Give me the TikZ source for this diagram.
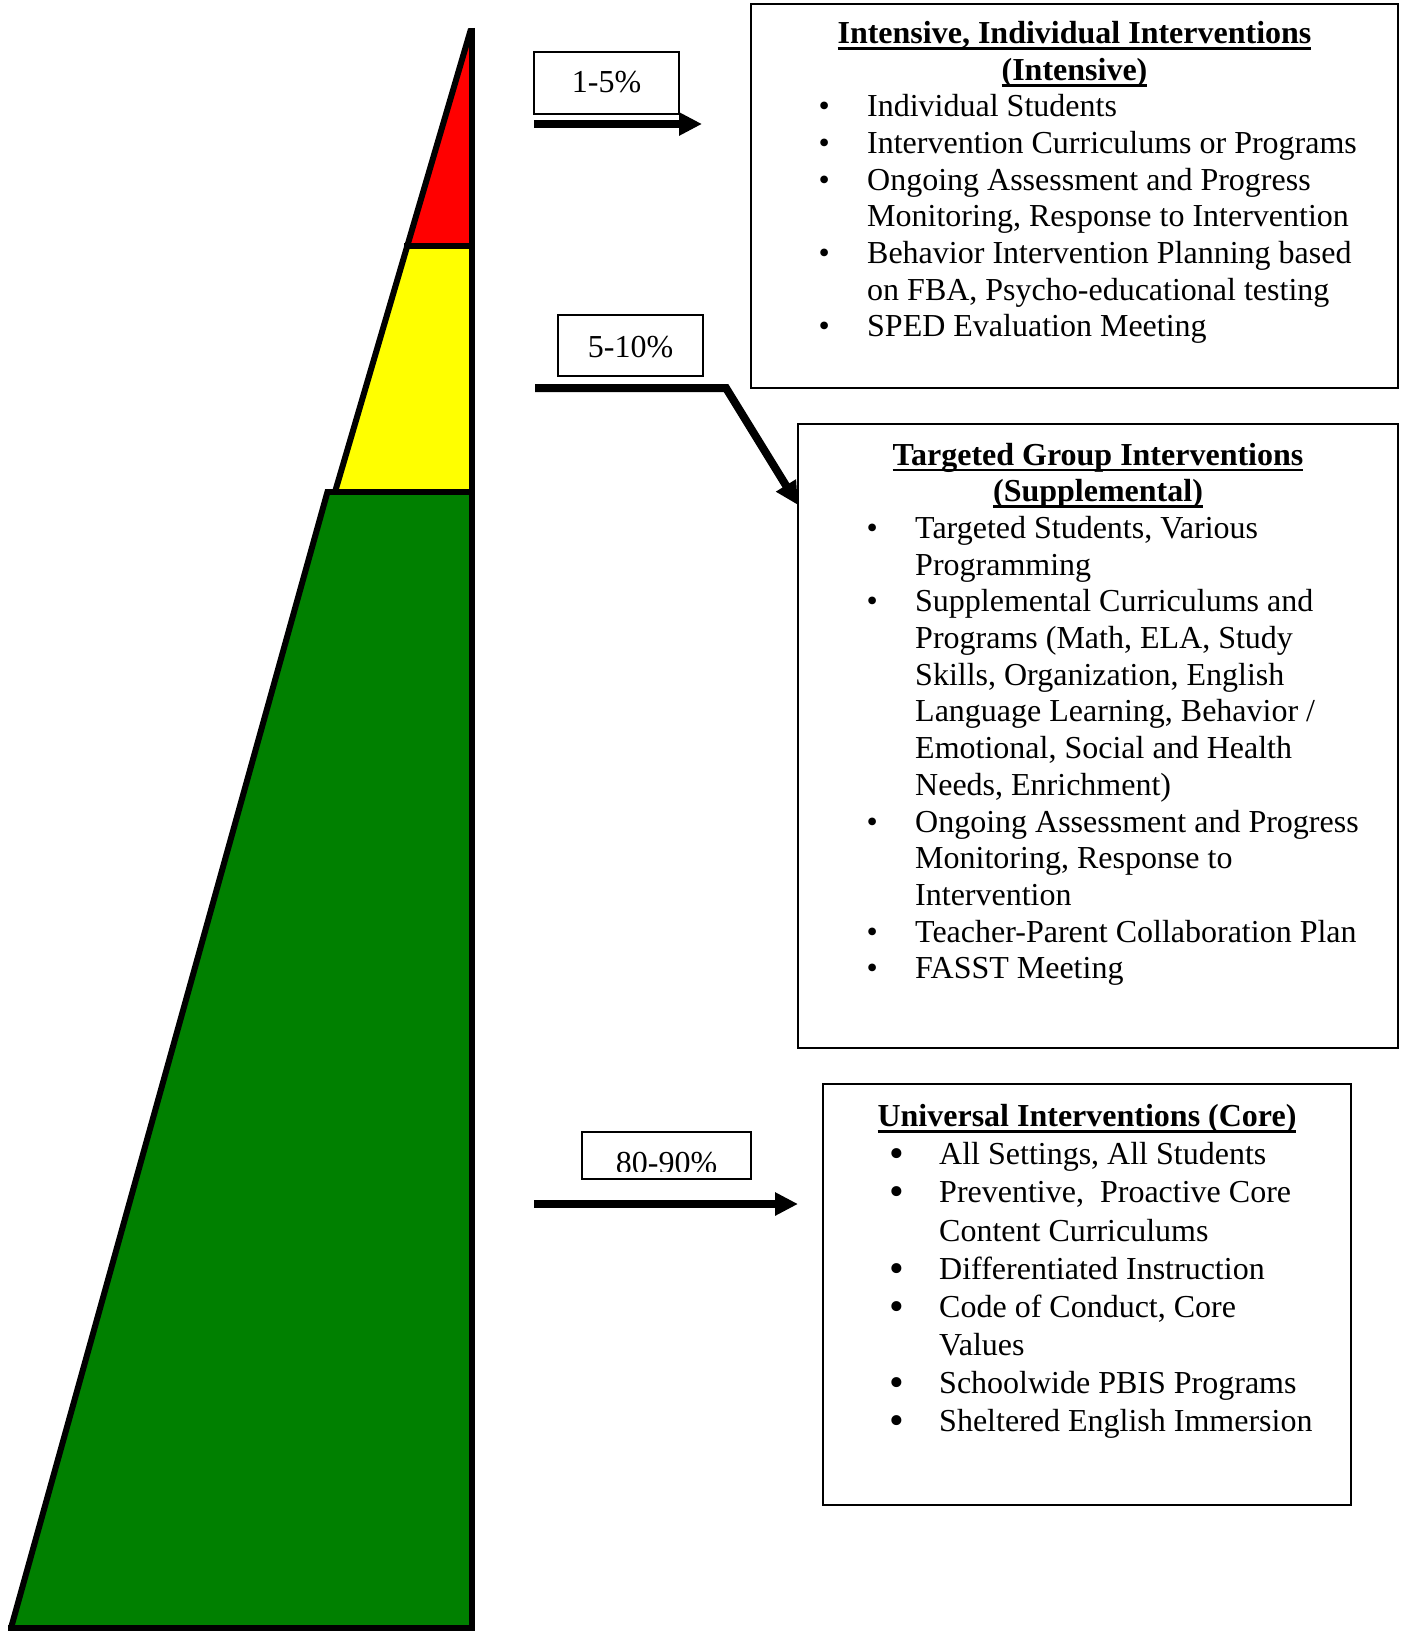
\documentclass[tikz,border=0pt]{standalone}
\usepackage{fontspec}
\setmainfont{Liberation Serif}
\usetikzlibrary{arrows.meta}
\definecolor{pgreen}{HTML}{008000}
\definecolor{pred}{HTML}{FF0000}
\definecolor{pyellow}{HTML}{FFFF00}
\newcommand\ftxt{\fontsize{32}{36.7}\selectfont}
\newcommand\ftxtC{\fontsize{32}{38.1}\selectfont}
\newcommand\myul[1]{\leavevmode\vtop{\hbox{\smash{#1}}\kern3.5pt\hrule height 2.8pt}}
\newcommand\bulA{\leavevmode\llap{\hbox to 48.6pt{•\hfil}}}
\newcommand\bulB{\leavevmode\llap{\hbox to 50pt{\raisebox{-3pt}{\fontsize{42}{42}\selectfont •}\hfil}}}
\tikzset{
  boxA/.style={draw, line width=2.5pt, inner sep=0pt},
  lbl/.style={draw, line width=2.5pt, inner sep=0pt, font=\fontsize{32}{36}\selectfont},
  txt/.style={inner sep=0pt},
  arr/.style={line width=8pt, line join=miter, -{Triangle[length=23pt,width=22pt]}},
  pyr/.style={line width=6pt, line cap=butt}
}
\begin{document}
\begin{tikzpicture}[x=1pt,y=-1pt]
\useasboundingbox (0,0) rectangle (1404,1637);
% pyramid
\fill[pred] (472,30) -- (407,246) -- (472,246) -- cycle;
\fill[pyellow] (407,246) -- (335,492) -- (472,492) -- (472,246) -- cycle;
\fill[pgreen] (328,492) -- (12,1628) -- (472,1628) -- (472,492) -- cycle;
\draw[pyr] (472,28) -- (472,1631);
\draw[pyr] (471,29) -- (335,492);
\draw[pyr] (328,490) -- (11,1628);
\draw[pyr] (404,246) -- (475,246);
\draw[pyr] (325,492) -- (475,492);
\draw[pyr] (8,1628) -- (475,1628);

% boxes
\node[boxA, minimum width=647pt, minimum height=384pt] (b1) at (1074.5,196) {};
\node[boxA, minimum width=600pt, minimum height=624pt] (b2) at (1098,736) {};
\node[boxA, minimum width=528pt, minimum height=421pt] (b3) at (1087,1294.5) {};

% titles
\node[txt, anchor=base] (t1) at (1074.5,43.8) {\begin{minipage}[t]{640pt}\ftxt\bfseries\centering
\myul{Intensive, Individual Interventions}\\
\myul{(Intensive)}\end{minipage}};
\node[txt, anchor=base] (t2) at (1098,465) {\begin{minipage}[t]{590pt}\ftxt\bfseries\centering
\myul{Targeted Group Interventions}\\
\myul{(Supplemental)}\end{minipage}};
\node[txt, anchor=base] (t3) at (1087,1126.7) {\begin{minipage}[t]{520pt}\ftxt\bfseries\centering
\myul{Universal Interventions (Core)}\end{minipage}};

% lists
\node[txt, anchor=base west] (i1) at (867,116.7) {\begin{minipage}[t]{520pt}\ftxt\raggedright
\bulA Individual Students\\
\bulA Intervention Curriculums or Programs\\
\bulA Ongoing Assessment and Progress\\
Monitoring, Response to Intervention\\
\bulA Behavior Intervention Planning based\\
on FBA, Psycho-educational testing\\
\bulA SPED Evaluation Meeting\end{minipage}};
\node[txt, anchor=base west] (i2) at (915,538.4) {\begin{minipage}[t]{470pt}\ftxt\raggedright
\bulA Targeted Students, Various\\
Programming\\
\bulA Supplemental Curriculums and\\
Programs (Math, ELA, Study\\
Skills, Organization, English\\
Language Learning, Behavior /\\
Emotional, Social and Health\\
Needs, Enrichment)\\
\bulA Ongoing Assessment and Progress\\
Monitoring, Response to\\
Intervention\\
\bulA Teacher-Parent Collaboration Plan\\
\bulA FASST Meeting\end{minipage}};
\node[txt, anchor=base west] (i3) at (939,1164.8) {\begin{minipage}[t]{400pt}\ftxtC\raggedright
\bulB All Settings, All Students\\
\bulB Preventive,\ \ Proactive Core\\
Content Curriculums\\
\bulB Differentiated Instruction\\
\bulB Code of Conduct, Core\\
Values\\
\bulB Schoolwide PBIS Programs\\
\bulB Sheltered English Immersion\end{minipage}};

% percentage labels
\node[lbl, minimum width=145pt, minimum height=62pt, text height=22pt, text depth=2pt] (p1) at (606.5,83) {1-5\%};
\node[lbl, minimum width=145pt, minimum height=61pt, text height=23pt, text depth=0pt] (p2) at (630.5,345.5) {5-10\%};
\node[lbl, minimum width=169pt, minimum height=47pt] (p3) at (666.5,1155.5) {};
\begin{scope}
\clip (584,1134) rectangle (749,1171);
\node[txt, anchor=base, font=\fontsize{32}{36}\selectfont] (p3t) at (666.5,1173.3) {80-90\%};
\end{scope}

% arrows
\coordinate (a1s) at (534,124);
\coordinate (a1e) at (702,124);
\draw[arr] (a1s) -- (a1e);
\coordinate (a2s) at (535,388);
\coordinate (a2k) at (726,388);
\coordinate (a2e) at (798,505);
\draw[arr] (a2s) -- (a2k) -- (a2e);
\coordinate (a3s) at (534,1204);
\coordinate (a3e) at (798,1204);
\draw[arr] (a3s) -- (a3e);
\end{tikzpicture}
\end{document}
